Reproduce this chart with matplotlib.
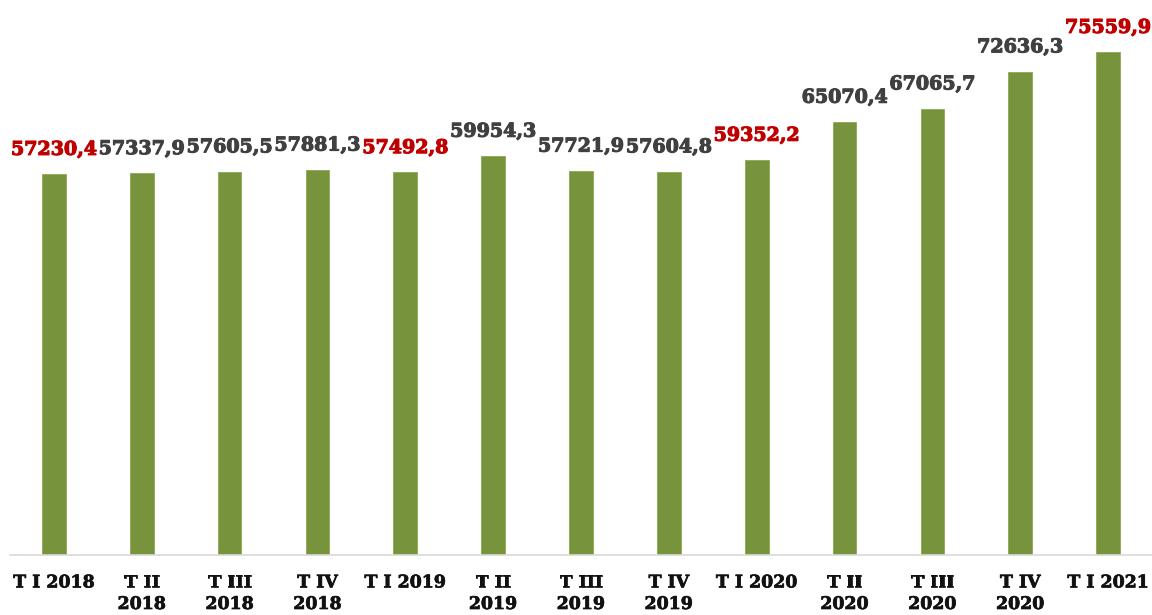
# %%
# Imports
import matplotlib.pyplot as plt
import matplotlib.patheffects as pe

# %%
# Data
quarters = ["T I 2018", "T II\n2018", "T III\n2018", "T IV\n2018",
            "T I 2019", "T II\n2019", "T III\n2019", "T IV\n2019",
            "T I 2020", "T II\n2020", "T III\n2020", "T IV\n2020",
            "T I 2021"]
values = [57230.4, 57337.9, 57605.5, 57881.3,
          57492.8, 59954.3, 57721.9, 57604.8,
          59352.2, 65070.4, 67065.7, 72636.3,
          75559.9]

# %%
# Plot
fig = plt.figure(figsize=(11.52, 6.15), dpi=100)
ax = fig.add_axes([10 / 1152, 60 / 615, 1142 / 1152, 555 / 615])

x = range(len(values))
ax.bar(x, values, width=0.27, color="#77933C", edgecolor="#8BA852", linewidth=0.6)

for xi, v, q in zip(x, values, quarters):
    col = "#C00000" if q.startswith("T I ") else "#404040"
    ax.annotate(f"{v:.1f}".replace(".", ","), (xi, v), xytext=(0, 11),
                textcoords="offset points", ha="center", va="bottom",
                family="DejaVu Serif", fontweight="bold", fontsize=13.7, color=col,
                path_effects=[pe.withStroke(linewidth=0.8, foreground=col)])

# Configure display
ax.set_xlim(-0.5, len(values) - 0.5)
ax.set_ylim(0, 83400)
ax.set_xticks(list(x))
ax.set_xticklabels(quarters, family="DejaVu Serif", fontweight="bold", fontsize=12.5,
                   color="#111111", linespacing=1.35)
for t in ax.get_xticklabels():
    t.set_path_effects([pe.withStroke(linewidth=0.5, foreground="#111111")])
ax.tick_params(axis="x", length=0, pad=14)
ax.set_yticks([])
for s in ["top", "right", "left"]:
    ax.spines[s].set_visible(False)
ax.spines["bottom"].set_color("#D9D9D9")
ax.spines["bottom"].set_linewidth(1.2)

fig.savefig("out.png", dpi=100)
